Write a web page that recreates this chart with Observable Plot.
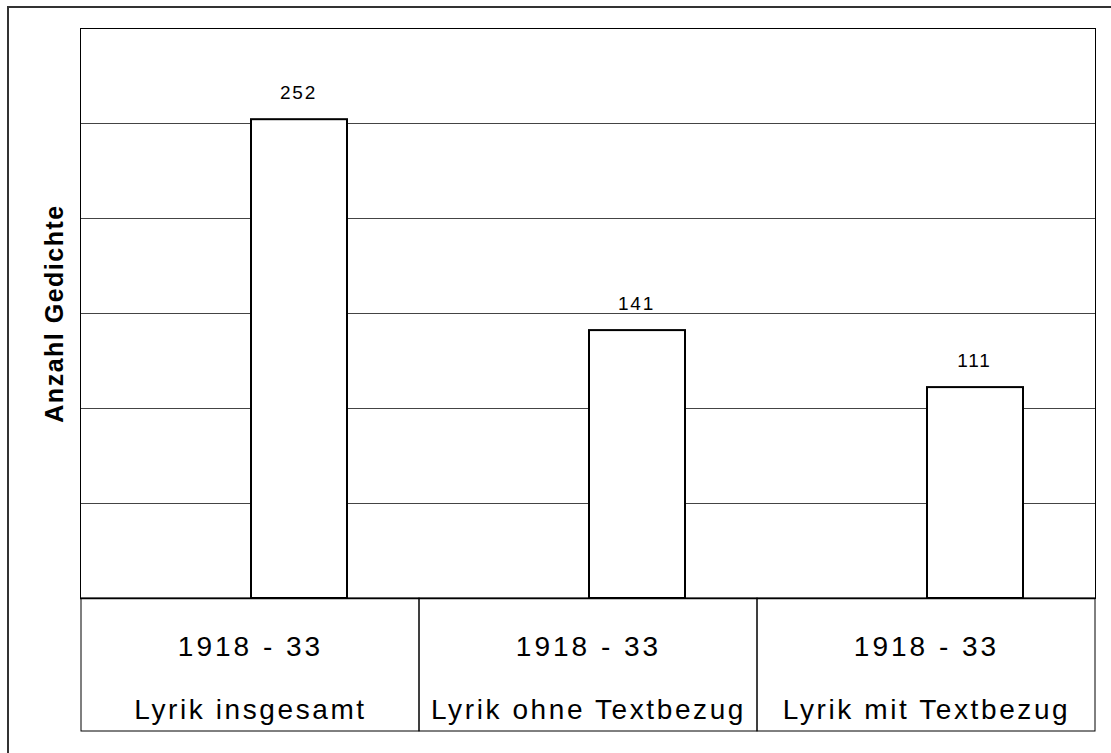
<!DOCTYPE html>
<html>
<head>
<meta charset="utf-8">
<script src="https://cdn.jsdelivr.net/npm/d3@7"></script>
<script src="https://cdn.jsdelivr.net/npm/@observablehq/plot@0.6"></script>
<style>
  html, body { margin: 0; padding: 0; background: #fff; }
  #wrap { position: relative; width: 1111px; height: 753px; overflow: hidden; }
  #outer { position: absolute; left: 7px; top: 6px; width: 1200px; height: 800px;
           border-top: 2px solid #333; border-left: 2px solid #333; pointer-events: none; }
</style>
</head>
<body>
<div id="wrap"><div id="outer"></div></div>
<script>
const categories = ["Lyrik insgesamt", "Lyrik ohne Textbezug", "Lyrik mit Textbezug"];
const periods = ["1918 - 33", "1918 - 33", "1918 - 33"];
const counts = [252, 141, 111];
const gridTicks = [50, 100, 150, 200, 250];
const yMax = 300;
const yLabel = "Anzahl Gedichte";

const data = categories.map((c, i) => ({category: c, period: periods[i], count: counts[i]}));

const chart = Plot.plot({
  width: 1111,
  height: 753,
  marginLeft: 80,
  marginRight: 16,
  marginTop: 28,
  marginBottom: 155,
  style: {fontFamily: "'Liberation Sans', Arial, sans-serif", background: "transparent", color: "#000", overflow: "visible"},
  x: {domain: categories, padding: 0, axis: null},
  y: {domain: [0, yMax], axis: null},
  marks: [
    Plot.ruleY(gridTicks, {stroke: "#444", strokeWidth: 1}),
    Plot.ruleY([yMax], {stroke: "#000", strokeWidth: 1}),
    // table cells below the plot
    Plot.rect(data, {x: "category", y1: 0, y2: 0, insetBottom: -133, fill: "none", stroke: "#000", strokeWidth: 1}),
    Plot.frame({stroke: "#000", strokeWidth: 1}),
    Plot.ruleY([0], {stroke: "#000", strokeWidth: 1.6}),
    Plot.barY(data, {x: "category", y: "count", fill: "#fff", stroke: "#000", strokeWidth: 2, insetLeft: 170, insetRight: 72}),
    Plot.text(data, {x: "category", y: "count", text: d => String(d.count), dx: 48, dy: -21, lineAnchor: "bottom", fontSize: 19, fill: "#000"}),
    Plot.text(data, {x: "category", text: "period", frameAnchor: "bottom", dy: 57, lineAnchor: "bottom", fontSize: 28, fill: "#000"}),
    Plot.text(data, {x: "category", text: "category", frameAnchor: "bottom", dy: 120, lineAnchor: "bottom", fontSize: 28, fill: "#000"}),
    Plot.text([yLabel], {text: d => d, frameAnchor: "left", textAnchor: "middle", rotate: -90, dx: -26, fontSize: 25, fontWeight: "bold", fill: "#000"})
  ]
});
document.getElementById("wrap").prepend(chart);

// letter spacing like the reference's spaced-out type
const textGroups = d3.select(chart).selectAll("g[aria-label='text']").nodes();
const spacings = [1.8, 3, 2.6, 1.5];
textGroups.forEach((g, i) => {
  d3.select(g).selectAll("text").style("letter-spacing", spacings[i] + "px");
});
</script>
</body>
</html>
